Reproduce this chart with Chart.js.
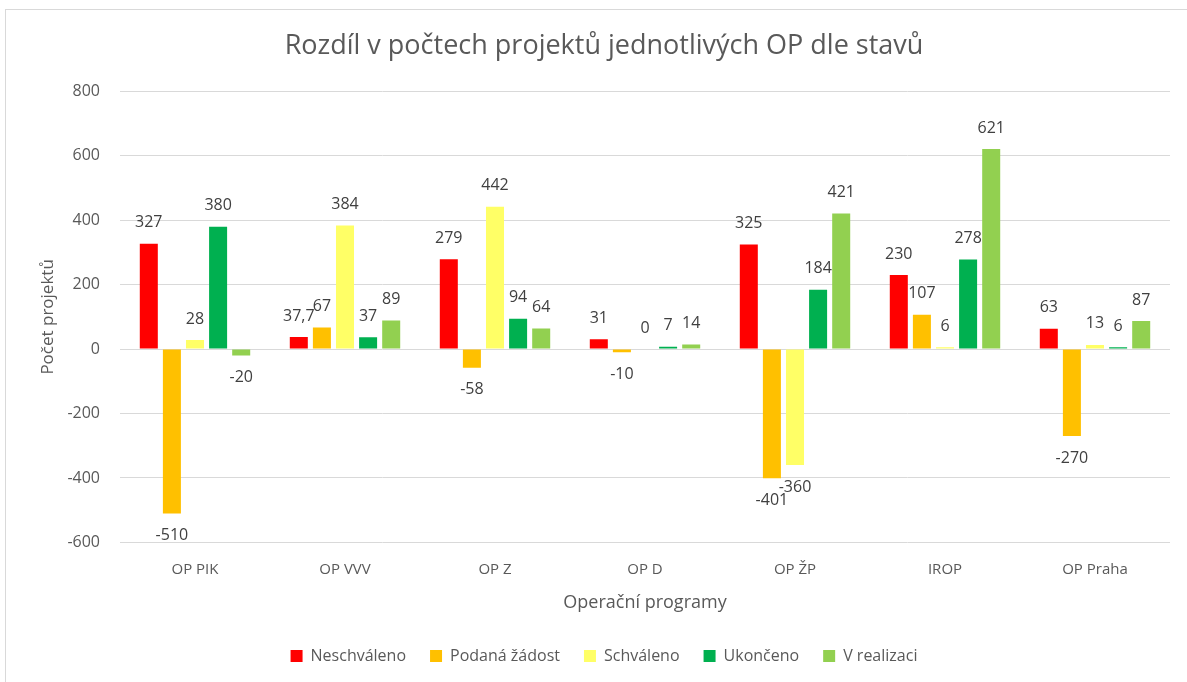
<!DOCTYPE html>
<html>
<head>
<meta charset="utf-8">
<script src="https://cdn.jsdelivr.net/npm/chart.js@4/dist/chart.umd.min.js"></script>
<style>
  html, body { margin: 0; padding: 0; background: #fff; }
  #wrap { position: absolute; left: 0; top: 0; width: 1187px; height: 682px; }
  #frame { position: absolute; left: 5px; top: 9px; right: 0; bottom: 0;
           border-top: 1px solid #d9d9d9; border-left: 1px solid #d9d9d9; }
</style>
</head>
<body>
<div id="wrap">
  <canvas id="myChart" width="1187" height="682"></canvas>
  <div id="frame"></div>
</div>
<script>
const categories = ["OP PIK", "OP VVV", "OP Z", "OP D", "OP ŽP", "IROP", "OP Praha"];
const neschvaleno = [327, 37.7, 279, 31, 325, 230, 63];
const podanaZadost = [-510, 67, -58, -10, -401, 107, -270];
const schvaleno = [28, 384, 442, 0, -360, 6, 13];
const ukonceno = [380, 37, 94, 7, 184, 278, 6];
const vRealizaci = [-20, 89, 64, 14, 421, 621, 87];
const yTicks = [-600, -400, -200, 0, 200, 400, 600, 800];

const FONT = "'Open Sans', sans-serif";
const TEXT = "#595959";

// labels outside the end of each bar, like Excel
const barLabels = {
    id: "barLabels",
    afterDatasetsDraw(chart) {
        const ctx = chart.ctx;
        ctx.save();
        ctx.font = "16px " + FONT;
        ctx.fillStyle = "#404040";
        ctx.textAlign = "center";
        ctx.textBaseline = "middle";
        chart.data.datasets.forEach((ds, i) => {
            const meta = chart.getDatasetMeta(i);
            meta.data.forEach((bar, j) => {
                const v = ds.data[j];
                const txt = String(v).replace(".", ",");
                const y = v >= 0 ? bar.y - 21 : bar.y + 22;
                ctx.fillText(txt, bar.x, y);
            });
        });
        ctx.restore();
    }
};

const ctx = document.getElementById("myChart").getContext("2d");
new Chart(ctx, {
    type: "bar",
    data: {
        labels: categories,
        datasets: [
            { label: "Neschváleno", data: neschvaleno, backgroundColor: "#FF0000" },
            { label: "Podaná žádost", data: podanaZadost, backgroundColor: "#FFC000" },
            { label: "Schváleno", data: schvaleno, backgroundColor: "#FFFF66" },
            { label: "Ukončeno", data: ukonceno, backgroundColor: "#00B050" },
            { label: "V realizaci", data: vRealizaci, backgroundColor: "#92D050" }
        ]
    },
    options: {
        responsive: false,
        animation: false,
        categoryPercentage: 0.77,
        barPercentage: 0.78,
        layout: { padding: { left: 38, right: 17, top: 30, bottom: 8 } },
        plugins: {
            title: {
                display: true,
                text: "Rozdíl v počtech projektů jednotlivých OP dle stavů",
                color: TEXT,
                font: { family: FONT, size: 27, weight: "normal" },
                padding: { top: 0, bottom: 29 }
            },
            legend: {
                position: "bottom",
                labels: {
                    color: TEXT,
                    font: { family: FONT, size: 16 },
                    boxWidth: 12,
                    boxHeight: 12,
                    padding: 24
                }
            },
            tooltip: { enabled: false }
        },
        scales: {
            x: {
                grid: { display: false },
                border: { display: false },
                ticks: { color: TEXT, font: { family: FONT, size: 15 }, padding: 10 },
                title: {
                    display: true,
                    text: "Operační programy",
                    color: TEXT,
                    font: { family: FONT, size: 18 },
                    padding: { top: 4, bottom: 10 }
                }
            },
            y: {
                min: -600,
                max: 800,
                afterBuildTicks(scale) { scale.ticks = yTicks.map(v => ({ value: v })); },
                afterFit(scale) { scale.width = 82; },
                grid: { color: "#d9d9d9", drawTicks: false },
                border: { display: false },
                ticks: { color: TEXT, font: { family: FONT, size: 16 }, padding: 20 },
                title: {
                    display: true,
                    text: "Počet projektů",
                    color: TEXT,
                    font: { family: FONT, size: 17 },
                    padding: { top: 0, bottom: 0 }
                }
            }
        }
    },
    plugins: [barLabels]
});
</script>
</body>
</html>
